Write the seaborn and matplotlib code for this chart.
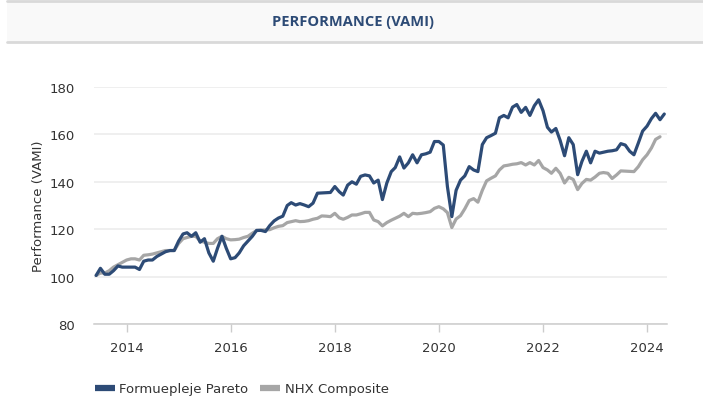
import numpy as np
import pandas as pd
import matplotlib.pyplot as plt
import matplotlib.dates as mdates
from matplotlib.patches import Rectangle
from matplotlib.lines import Line2D
import seaborn as sns

# ------------------------------------------------------------
# Data: monthly VAMI (month-end), May 2013 - Apr 2024
# ------------------------------------------------------------
months = pd.date_range('2013-05-31', periods=132, freq='ME')

pareto = [
    # 2013 (May-Dec)
    100.5, 103.5, 101.0, 101.0, 102.5, 104.5, 104.0, 104.0,
    # 2014
    104.0, 104.0, 103.0, 106.5, 107.0, 107.0, 108.5, 109.5, 110.5, 111.0, 111.0, 115.0,
    # 2015
    118.0, 118.5, 117.0, 118.5, 114.5, 116.0, 110.0, 106.5, 112.0, 117.0, 112.0, 107.5,
    # 2016
    108.0, 110.0, 113.0, 115.0, 117.0, 119.5, 119.5, 119.0, 121.5, 123.5, 124.7, 125.5,
    # 2017
    130.0, 131.2, 130.2, 130.8, 130.2, 129.5, 131.0, 135.2, 135.3, 135.4, 135.5, 138.0,
    # 2018
    135.8, 134.4, 138.6, 140.0, 139.0, 142.3, 142.9, 142.5, 139.5, 140.7, 132.5, 139.5,
    # 2019
    144.3, 146.0, 150.5, 145.8, 148.0, 151.4, 148.0, 151.4, 151.8, 152.5, 157.0, 157.0,
    # 2020
    155.5, 138.0, 125.3, 136.4, 140.7, 142.5, 146.4, 145.0, 144.3, 155.7, 158.6, 159.5,
    # 2021
    160.5, 167.0, 168.0, 167.0, 171.5, 172.6, 169.3, 171.4, 168.0, 172.1, 174.6, 170.0,
    # 2022
    163.0, 161.0, 162.5, 157.5, 151.0, 158.6, 155.7, 143.0, 148.6, 152.9, 148.0, 152.9,
    # 2023
    152.1, 152.5, 152.9, 153.1, 153.5, 156.1, 155.5, 152.9, 151.4, 156.4, 161.4, 163.5,
    # 2024 (Jan-Apr)
    166.7, 168.9, 166.2, 168.6,
]

nhx = [
    # 2013 (May-Dec)
    100.5, 101.5, 101.5, 102.5, 104.0, 105.0, 106.0, 107.0,
    # 2014
    107.5, 107.5, 107.0, 109.0, 109.2, 109.5, 110.0, 110.5, 111.0, 111.0, 111.0, 114.0,
    # 2015
    116.0, 116.5, 117.0, 117.0, 115.0, 114.5, 114.0, 114.0, 116.0, 117.0, 116.0, 115.5,
    # 2016
    115.6, 115.8, 116.5, 117.0, 118.3, 119.4, 119.6, 119.7, 119.8, 120.6, 121.2, 121.5,
    # 2017
    122.8, 123.2, 123.6, 123.2, 123.3, 123.6, 124.2, 124.6, 125.6, 125.5, 125.3, 126.7,
    # 2018
    124.8, 124.2, 125.0, 126.0, 126.0, 126.5, 127.1, 127.1, 123.9, 123.2, 121.4, 122.8,
    # 2019
    123.8, 124.6, 125.5, 126.7, 125.3, 126.7, 126.5, 126.7, 127.0, 127.4, 128.8, 129.5,
    # 2020
    128.6, 127.0, 120.7, 124.3, 125.7, 128.6, 132.1, 132.9, 131.4, 136.4, 140.4, 141.5,
    # 2021
    142.5, 145.0, 146.7, 147.0, 147.4, 147.6, 148.1, 147.1, 148.1, 147.1, 149.0, 146.0,
    # 2022
    145.0, 143.6, 145.7, 143.6, 139.5, 141.9, 141.0, 136.7, 139.3, 141.0, 140.7, 142.0,
    # 2023
    143.6, 143.9, 143.6, 141.4, 142.9, 144.6, 144.5, 144.4, 144.3, 146.4, 149.3, 151.4,
    # 2024 (Jan-Apr)
    154.3, 157.9, 159.0, np.nan,
]

series_names = ['Formuepleje Pareto', 'NHX Composite']
y_ticks = [80, 100, 120, 140, 160, 180]
x_years = [2014, 2016, 2018, 2020, 2022, 2024]

NAVY = '#2d4b76'
GRAY = '#a6a6a6'
TEXT = '#333333'

df = pd.concat([
    pd.DataFrame({'Date': months, 'VAMI': pareto, 'Series': series_names[0]}),
    pd.DataFrame({'Date': months, 'VAMI': nhx, 'Series': series_names[1]}),
]).dropna()

# ------------------------------------------------------------
# Figure
# ------------------------------------------------------------
sns.set_theme(style='white')
plt.rcParams['font.family'] = ['DejaVu Sans']

fig = plt.figure(figsize=(7.03, 4.02), dpi=100)
W, H = 703, 402

# header band
fig.patches.append(Rectangle((7 / W, 1 - 43 / H), 1 - 7 / W, 41 / H,
                             transform=fig.transFigure, facecolor='#f9f9f9',
                             edgecolor='none', zorder=0))
for yy in (2, 43):
    fig.add_artist(Line2D([7 / W, 1], [1 - yy / H, 1 - yy / H], color='#d9d9d9',
                          linewidth=2.0, transform=fig.transFigure))
fig.text(353 / W, 1 - 22 / H, 'PERFORMANCE (VAMI)', ha='center', va='center',
         color=NAVY, fontsize=10.5, fontweight='bold', family='Open Sans')

ax = fig.add_axes([94 / W, 1 - 325 / H, 573 / W, 237 / H])
sns.lineplot(data=df, x='Date', y='VAMI', hue='Series', hue_order=series_names[::-1],
             palette={series_names[0]: NAVY, series_names[1]: GRAY},
             linewidth=2.3, ax=ax, legend=False)

ax.set_ylim(80, 180)
ax.set_yticks(y_ticks)
ax.set_xlim(pd.Timestamp('2013-05-16'), pd.Timestamp('2024-05-19'))
ax.set_xticks([pd.Timestamp(f'{y}-01-01') for y in x_years])
ax.xaxis.set_major_formatter(mdates.DateFormatter('%Y'))

ax.grid(axis='y', color='#ebebeb', linewidth=1.1)
ax.grid(axis='x', visible=False)
for side in ('top', 'right', 'left'):
    ax.spines[side].set_visible(False)
ax.spines['bottom'].set_color('#cccccc')
ax.spines['bottom'].set_linewidth(1.1)

ax.tick_params(axis='x', length=6, width=1, color='#cccccc', pad=6,
               labelsize=9.5, labelcolor=TEXT, direction='out', bottom=True)
ax.tick_params(axis='y', length=0, pad=14, labelsize=9.5, labelcolor=TEXT)
ax.set_xlabel('')
ax.set_ylabel('Performance (VAMI)', fontsize=9.5, color=TEXT, labelpad=3)

handles = [Line2D([], [], color=NAVY, linewidth=4.5, solid_capstyle='butt'),
           Line2D([], [], color=GRAY, linewidth=4.5, solid_capstyle='butt')]
fig.legend(handles, series_names, loc='center left',
           bbox_to_anchor=(95 / W, 1 - 390 / H), ncol=2, frameon=False,
           fontsize=9.5, handlelength=1.5, handletextpad=0.35,
           columnspacing=0.9, borderpad=0, borderaxespad=0,
           labelcolor=TEXT)

fig.savefig('out.png', dpi=100)
